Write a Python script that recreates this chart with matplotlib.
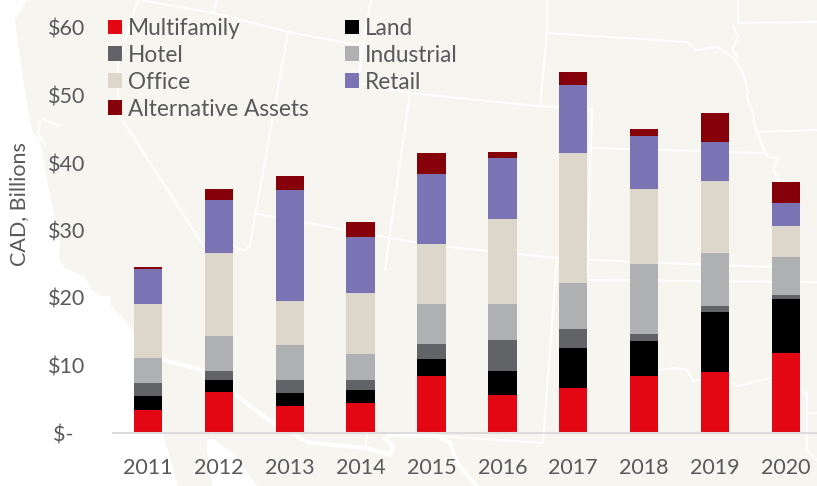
import numpy as np
import matplotlib
matplotlib.use('Agg')
import matplotlib.pyplot as plt
from matplotlib.patches import Polygon

plt.rcParams['font.family'] = ['Lato', 'DejaVu Sans']

years = ['2011','2012','2013','2014','2015','2016','2017','2018','2019','2020']
names = ['Multifamily','Land','Hotel','Industrial','Office','Retail','Alternative Assets']
colors = ['#e30613','#000000','#626366','#afb0b2','#dcd7ca','#7a74b4','#850009']

# segment heights, CAD billions
multifamily = [3.4, 6.1, 4.0, 4.4, 8.4, 5.6, 6.7, 8.4, 9.0, 11.8]
land        = [2.1, 1.8, 1.9, 2.0, 2.5, 3.6, 5.9, 5.3, 9.0, 8.1]
hotel       = [1.9, 1.3, 1.95, 1.45, 2.3, 4.6, 2.8, 0.9, 0.8, 0.5]
industrial  = [3.7, 5.2, 5.15, 3.85, 5.9, 5.3, 6.8, 10.4, 7.9, 5.7]
office      = [8.0, 12.2, 6.5, 9.1, 8.9, 12.6, 19.3, 11.1, 10.7, 4.5]
retail      = [5.2, 7.9, 16.5, 8.3, 10.3, 9.0, 10.0, 7.9, 5.7, 3.5]
alternative = [0.3, 1.7, 2.0, 2.1, 3.2, 0.9, 2.0, 1.0, 4.3, 3.1]
series = [multifamily, land, hotel, industrial, office, retail, alternative]

# background map, in image pixels
land_outline = [(27,0),(15,20),(18,45),(21,65),(27,105),(30,120),(33,133),(40,140),
                (47,180),(52,205),(56,220),(60,240),(59,258),(65,268),(85,277),(92,290),
                (100,296),(110,296),(111,306),(125,320),(134,332),(150,370),(163,433),(178,486),
                (817,486),(817,0)]
gulf = [(207,441),(213,439),(233,453),(257,486),(212,486),(207,450)]
thin_borders = [
    [(140,0),(213,13),(288,32),(363,46),(371,0)],
    [(217,0),(213,13)],
    [(138,0),(118,63),(118,113),(203,245)],
    [(288,32),(250,245),(245,250),(240,250),(233,245)],
    [(363,46),(358,83),(410,93),(538,106),(592,110),(587,280)],
    [(410,93),(390,233),(385,270)],
    [(257,214),(430,245),(557,258),(660,263),(773,267)],
    [(557,258),(543,443)],
    [(437,436),(543,443)],
    [(587,280),(817,282)],
    [(547,0),(547,33),(687,42),(697,50),(717,47),(733,57),(743,73),(748,92),(747,97),(753,113),
     (755,128),(763,147),(768,157),(778,158),(773,170),(780,182)],
    [(547,33),(540,107)],
    [(738,0),(738,23),(817,22)],
    [(733,25),(738,37),(732,50),(738,57)],
    [(757,132),(817,130)],
    [(592,148),(763,153)],
    [(660,370),(673,368),(687,370),(693,381),(703,380),(730,381),(738,386),(770,378)],
    [(800,391),(807,393),(807,450),(817,460)],
    [(807,413),(817,413)],
    [(365,448),(367,435)],
    [(42,118),(50,122),(60,126)],
    [(40,122),(38,135),(46,145)],
]
thick_borders = [
    [(163,360),(203,370),(203,376),(233,393),(273,423),(310,443),(365,448),(390,455),(393,447),
     (385,438),(390,435),(437,436),(450,443),(457,463),(477,486)],
]

fig = plt.figure(figsize=(8.17,4.86), dpi=100)
bg = fig.add_axes([0,0,1,1])
bg.set_xlim(0,817)
bg.set_ylim(486,0)
bg.axis('off')
bg.add_patch(Polygon(land_outline, closed=True, fc='#f6f5f0', ec='none'))
bg.add_patch(Polygon(gulf, closed=True, fc='#ffffff', ec='none'))
for b in thin_borders:
    xs, ys = zip(*b)
    bg.plot(xs, ys, color='white', lw=1.4, solid_capstyle='round')
for b in thick_borders:
    xs, ys = zip(*b)
    bg.plot(xs, ys, color='white', lw=2.8, solid_capstyle='round')

ax = fig.add_axes([112.6/817, (486-433)/486, (817-112.6)/817, 405/486])
ax.patch.set_alpha(0)
x = np.arange(len(years))
bottom = np.zeros(len(years))
for vals, name, c in zip(series, names, colors):
    ax.bar(x, vals, 0.4, bottom=bottom, color=c, label=name)
    bottom += np.array(vals)

ax.set_xlim(-0.5, 9.44)
ax.set_ylim(0, 60)
ax.set_xticks(x)
ax.set_xticklabels(years)
ax.set_yticks([0,10,20,30,40,50,60])
ax.set_yticklabels(['$-  ','$10','$20','$30','$40','$50','$60'])
for s in ['top','right','left']:
    ax.spines[s].set_visible(False)
ax.spines['bottom'].set_color('#dcdcdc')
ax.spines['bottom'].set_linewidth(1.5)
ax.tick_params(length=0, labelsize=15.5, labelcolor='#58595b')
ax.tick_params(axis='x', pad=18)
ax.tick_params(axis='y', pad=20)
ax.set_ylabel('CAD, Billions', fontsize=15.5, color='#58595b', y=0.565, labelpad=13)

handles, labels = ax.get_legend_handles_labels()
# legend fills columns first, so put the left column first
order = [0,2,4,6,1,3,5]
ax.legend([handles[i] for i in order], [labels[i] for i in order], ncol=2, frameon=False,
          loc='upper left', bbox_to_anchor=(-0.0065, 1.025), fontsize=16.3, labelcolor='#58595b',
          handlelength=0.62, handleheight=0.62, handletextpad=0.27, columnspacing=1.6,
          labelspacing=0.26, borderaxespad=0, borderpad=0)

fig.savefig('out.png', dpi=100)
